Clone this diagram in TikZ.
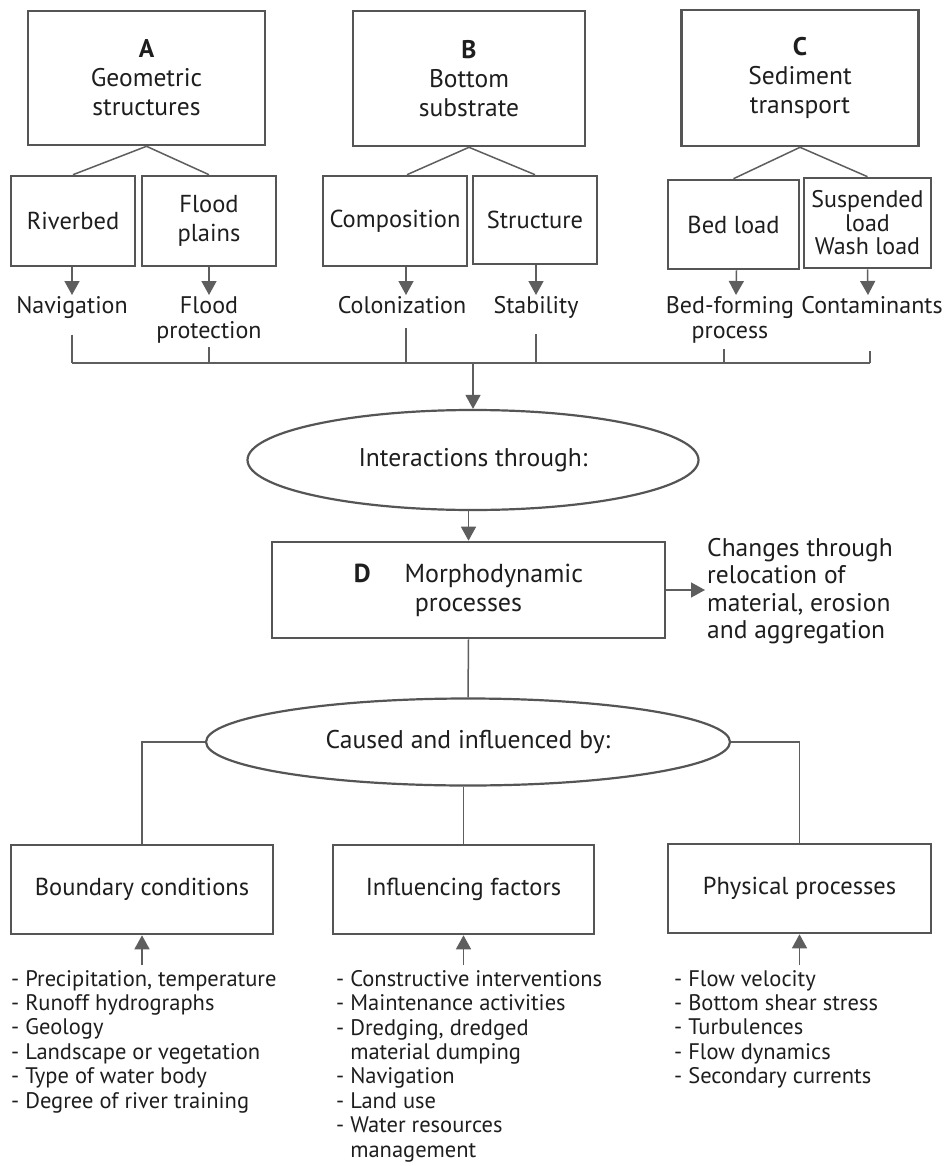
\documentclass[tikz,border=0pt]{standalone}
\usepackage{fontspec}
\setmainfont{PT Sans}
\usetikzlibrary{arrows.meta,shapes.geometric,calc}
\definecolor{edge}{HTML}{555555}
\definecolor{wire}{HTML}{5E5E5E}
\definecolor{ink}{HTML}{1E1E1E}
\begin{document}
\begin{tikzpicture}[x=1pt,y=-1pt,
  box/.style={draw=edge,line width=2.6pt,inner sep=0pt,text=ink,align=center,
    font=\fontsize{24.5}{29}\selectfont},
  oval/.style={ellipse,draw=edge,line width=2.2pt,inner sep=0pt,text=ink,
    font=\fontsize{25.6}{30}\selectfont},
  lbl/.style={text=ink,align=center,inner sep=1pt,font=\fontsize{24}{25}\selectfont},
  lst/.style={text=ink,align=left,inner sep=0pt,
    font=\fontsize{22.5}{24.4}\selectfont},
  conn/.style={draw=wire,line width=1.5pt},
  arr/.style={conn,-{Triangle[width=15pt,length=14pt]}},
]
\fill[white] (0,0) rectangle (944,1166);
\useasboundingbox (0,0) rectangle (944,1166);

% top level categories
\node[box,minimum width=237pt,minimum height=134pt,font=\fontsize{25.5}{29}\selectfont] (A) at (146.5,78) {\textbf{A}\\Geometric\\structures};
\node[box,minimum width=232pt,minimum height=135pt,font=\fontsize{25.5}{29}\selectfont] (B) at (469,78.5) {\textbf{B}\\Bottom\\substrate};
\node[box,minimum width=237pt,minimum height=136pt,font=\fontsize{25.5}{29}\selectfont] (C) at (800,78) {\textbf{C}\\Sediment\\transport};

% sub-categories
\node[box,minimum width=124pt,minimum height=90pt] (riv) at (73,221) {Riverbed};
\node[box,minimum width=134pt,minimum height=90pt] (fp) at (209,221) {Flood\\plains};
\node[box,minimum width=144pt,minimum height=90pt] (comp) at (395,221) {Composition};
\node[box,minimum width=124pt,minimum height=88pt] (str) at (535,220) {Structure};
\node[box,minimum width=131pt,minimum height=89pt] (bed) at (733.5,224.5) {Bed load};
\node[box,minimum width=127pt,minimum height=90pt,font=\fontsize{24}{23.5}\selectfont] (sus) at (867.5,223) {Suspended\\load\\Wash load};

\draw[conn] (A.south) -- (riv.north);
\draw[conn] (A.south) -- (fp.north);
\draw[conn] (B.south) -- ([xshift=12pt]comp.north);
\draw[conn] (B.south) -- (str.north);
\draw[conn] (C.south) -- (bed.north);
\draw[conn] (C.south) -- (sus.north);

% uses
\node[lbl,anchor=north] (nav) at (72,295) {Navigation};
\node[lbl,anchor=north] (fprot) at (209,295) {Flood\\protection};
\node[lbl,anchor=north] (colon) at (402,295) {Colonization};
\node[lbl,anchor=north] (stab) at (536,295) {Stability};
\node[lbl,anchor=north] (bedf) at (730,295) {Bed-forming\\process};
\node[lbl,anchor=north] (contam) at (872,295) {Contaminants};

\draw[arr] (riv.south -| nav.north) -- (nav.north);
\draw[arr] (fp.south -| fprot.north) -- (fprot.north);
\draw[arr] ([xshift=11pt]comp.south) -- ([xshift=4pt]colon.north);
\draw[arr] (str.south -| stab.north) -- (stab.north);
\draw[arr] ([xshift=3pt]bed.south) -- ([xshift=6pt]bedf.north);
\draw[arr] (sus.south) -- ([xshift=-4pt]contam.north);

% collecting line
\coordinate (bus) at (473,363);
\draw[conn] (nav.south |- bus) -- ([xshift=-2pt]contam.south |- bus);
\draw[conn,shorten <=15pt] (nav.south) -- (nav.south |- bus);
\draw[conn,shorten <=3pt] (fprot.south) -- (fprot.south |- bus);
\draw[conn,shorten <=13pt] ([xshift=4pt]colon.south) -- ([xshift=4pt]colon.south |- bus);
\draw[conn,shorten <=15pt] (stab.south) -- (stab.south |- bus);
\draw[conn,shorten <=5pt] ([xshift=-6pt]bedf.south) -- ([xshift=-6pt]bedf.south |- bus);
\draw[conn,shorten <=36pt] ([xshift=-2pt]contam.south) -- ([xshift=-2pt]contam.south |- bus);

\node[oval,minimum width=451pt,minimum height=100pt] (e1) at (473,460) {Interactions through:};
\draw[arr] (bus) -- (e1.north);

% morphodynamics
\node[box,minimum width=393pt,minimum height=96pt,font=\fontsize{26}{29}\selectfont] (D) at (468.5,590)
  {\textbf{D}\hspace{1.3em}Morphodynamic\\processes};
\draw[arr] (D.north |- e1.south) -- (D.north);

\node[text=ink,align=left,anchor=west,inner sep=2pt,font=\fontsize{25.5}{27.5}\selectfont] (chg) at (705,591)
  {Changes through\\relocation of\\material, erosion\\and aggregation};
\draw[arr] (D.east) -- (D.east -| chg.west);

\node[oval,minimum width=524pt,minimum height=87pt] (e2) at (468,742) {Caused and influenced by:};
\draw[conn] (D.south) -- (e2.north);

% driving factors
\node[box,minimum width=262pt,minimum height=89pt] (bc) at (142,889.5) {Boundary conditions};
\node[box,minimum width=261pt,minimum height=89pt] (inf) at (463.5,889.5) {Influencing factors};
\node[box,minimum width=263pt,minimum height=89pt] (pp) at (799.5,888.5) {Physical processes};

\draw[conn] (e2.west) -| (bc.north);
\draw[conn] (inf.north |- e2.south) -- (inf.north);
\draw[conn] (e2.east) -| (pp.north);

\node[lst,anchor=north west] (bcl) at (11,970)
  {- Precipitation, temperature\\- Runoff hydrographs\\- Geology\\- Landscape or vegetation\\- Type of water body\\- Degree of river training};
\node[lst,anchor=north west] (infl) at (336,970)
  {- Constructive interventions\\- Maintenance activities\\- Dredging, dredged\\\hphantom{- }material dumping\\- Navigation\\- Land use\\- Water resources\\\hphantom{- }management};
\node[lst,anchor=north west] (ppl) at (674,970)
  {- Flow velocity\\- Bottom shear stress\\- Turbulences\\- Flow dynamics\\- Secondary currents};

\draw[arr,shorten <=5pt] (bc.south |- bcl.north) -- (bc.south);
\draw[arr,shorten <=5pt] (inf.south |- infl.north) -- (inf.south);
\draw[arr,shorten <=5pt] (pp.south |- ppl.north) -- (pp.south);
\end{tikzpicture}
\end{document}
